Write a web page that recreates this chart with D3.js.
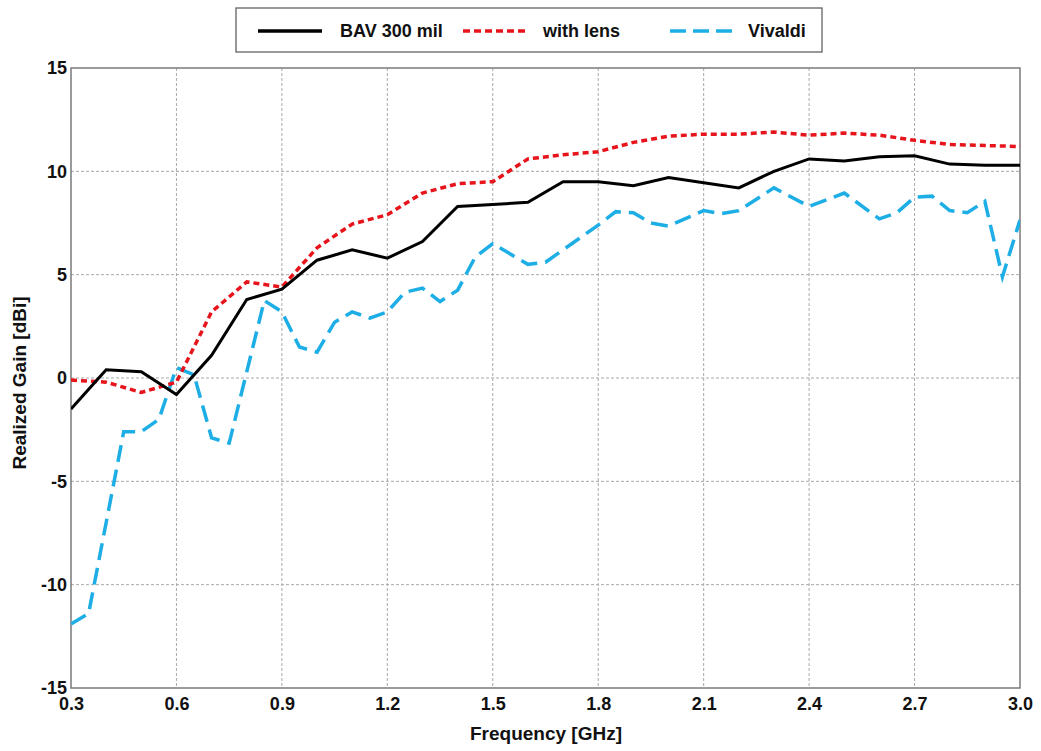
<!DOCTYPE html>
<html><head><meta charset="utf-8">
<script src="https://cdn.jsdelivr.net/npm/d3@7"></script>
<style>body{margin:0;background:#fff}</style>
</head><body><svg id="c" width="1041" height="751"></svg>
<script>
const xTicks = [0.3,0.6,0.9,1.2,1.5,1.8,2.1,2.4,2.7,3.0];
const yTicks = [-15,-10,-5,0,5,10,15];
const bavFreq = [0.3,0.4,0.5,0.6,0.7,0.8,0.9,1.0,1.1,1.2,1.3,1.4,1.5,1.6,1.7,1.8,1.9,2.0,2.1,2.2,2.3,2.4,2.5,2.6,2.7,2.8,2.9,3.0];
const bavGain = [-1.5,0.4,0.3,-0.8,1.1,3.8,4.3,5.7,6.2,5.8,6.6,8.3,8.4,8.5,9.5,9.5,9.3,9.7,9.45,9.2,10.0,10.6,10.5,10.7,10.75,10.35,10.3,10.3];
const lensFreq = [0.3,0.4,0.5,0.6,0.7,0.8,0.9,1.0,1.1,1.2,1.3,1.4,1.5,1.6,1.7,1.8,1.9,2.0,2.1,2.2,2.3,2.4,2.5,2.6,2.7,2.8,2.9,3.0];
const lensGain = [-0.1,-0.2,-0.7,-0.2,3.2,4.65,4.4,6.3,7.45,7.9,8.95,9.4,9.5,10.6,10.8,10.95,11.4,11.7,11.8,11.8,11.9,11.75,11.85,11.75,11.5,11.3,11.25,11.2];
const vivFreq = [0.3,0.35,0.45,0.5,0.55,0.6,0.65,0.7,0.75,0.85,0.9,0.95,1.0,1.05,1.1,1.15,1.2,1.25,1.3,1.35,1.4,1.45,1.5,1.6,1.65,1.8,1.85,1.9,1.95,2.0,2.1,2.15,2.2,2.3,2.4,2.5,2.6,2.65,2.7,2.75,2.8,2.85,2.9,2.95,3.0];
const vivGain = [-11.9,-11.4,-2.6,-2.6,-2.0,0.5,0.15,-2.9,-3.15,3.75,3.2,1.5,1.25,2.7,3.2,2.9,3.2,4.15,4.35,3.7,4.25,5.85,6.5,5.5,5.6,7.4,8.05,8.0,7.5,7.35,8.1,7.95,8.1,9.2,8.3,8.95,7.7,8.0,8.75,8.8,8.1,8.0,8.55,4.9,7.65];
const seriesNames = ["BAV 300 mil","with lens","Vivaldi"];

const svg = d3.select("#c");
const L=71,R=1020,T=68,B=688;
const x = d3.scaleLinear().domain([0.3,3.0]).range([L,R]);
const y = d3.scaleLinear().domain([-15,15]).range([B,T]);
const font = "Arial, 'Liberation Sans', sans-serif";

// grid
svg.append("g").selectAll("line").data(xTicks.slice(1,-1)).join("line")
  .attr("x1",d=>x(d)).attr("x2",d=>x(d)).attr("y1",T).attr("y2",B)
  .attr("stroke","#a8a8a8").attr("stroke-width",1).attr("stroke-dasharray","3,2");
svg.append("g").selectAll("line").data(yTicks.slice(1,-1)).join("line")
  .attr("y1",d=>y(d)).attr("y2",d=>y(d)).attr("x1",L).attr("x2",R)
  .attr("stroke","#a8a8a8").attr("stroke-width",1).attr("stroke-dasharray","3,2");

// axes
const xAxis = svg.append("g").attr("transform",`translate(0,${B})`)
  .call(d3.axisBottom(x).tickValues(xTicks).tickFormat(d3.format(".1f")).tickSize(0).tickPadding(9));
const yAxis = svg.append("g").attr("transform",`translate(${L},0)`)
  .call(d3.axisLeft(y).tickValues(yTicks).tickFormat(d=>String(d)).tickSize(0).tickPadding(4));
[xAxis,yAxis].forEach(a=>{
  a.select(".domain").remove();
  a.selectAll("text").attr("font-family",font).attr("font-weight","bold").attr("font-size",18).attr("fill","#111");
});

// frame
svg.append("rect").attr("x",L).attr("y",T).attr("width",R-L).attr("height",B-T)
  .attr("fill","none").attr("stroke","#7a7a7a").attr("stroke-width",1.5);

// clip
svg.append("clipPath").attr("id","clip").append("rect").attr("x",L).attr("y",T).attr("width",R-L).attr("height",B-T);

const line = d3.line().x(d=>x(d[0])).y(d=>y(d[1]));
const plot = svg.append("g").attr("clip-path","url(#clip)");
plot.append("path").datum(vivFreq.map((f,i)=>[f,vivGain[i]]))
  .attr("d",line).attr("fill","none").attr("stroke","#1eaee6").attr("stroke-width",3.5).attr("stroke-dasharray","17,8");
plot.append("path").datum(lensFreq.map((f,i)=>[f,lensGain[i]]))
  .attr("d",line).attr("fill","none").attr("stroke","#e8141c").attr("stroke-width",3.5).attr("stroke-dasharray","6,4");
plot.append("path").datum(bavFreq.map((f,i)=>[f,bavGain[i]]))
  .attr("d",line).attr("fill","none").attr("stroke","#000").attr("stroke-width",3);

// axis titles
svg.append("text").attr("x",546).attr("y",740).attr("text-anchor","middle")
  .attr("font-family",font).attr("font-weight","bold").attr("font-size",19).attr("fill","#111").text("Frequency [GHz]");
svg.append("text").attr("transform",`translate(26,383) rotate(-90)`).attr("text-anchor","middle")
  .attr("font-family",font).attr("font-weight","bold").attr("font-size",19).attr("fill","#111").text("Realized Gain [dBi]");

// legend
const lg = svg.append("g");
lg.append("rect").attr("x",236).attr("y",8).attr("width",586).attr("height",44)
  .attr("fill","#fff").attr("stroke","#555").attr("stroke-width",1.2);
const legendItems = [
  {name:seriesNames[0],x1:258,x2:322,color:"#000",dash:null,w:3.5,tx:340},
  {name:seriesNames[1],x1:463,x2:528,color:"#e8141c",dash:"7,4",w:3.5,tx:543},
  {name:seriesNames[2],x1:670,x2:733,color:"#1eaee6",dash:"16,7",w:3.5,tx:748}
];
legendItems.forEach(it=>{
  lg.append("line").attr("x1",it.x1).attr("x2",it.x2).attr("y1",31).attr("y2",31)
    .attr("stroke",it.color).attr("stroke-width",it.w).attr("stroke-dasharray",it.dash);
  lg.append("text").attr("x",it.tx).attr("y",37).attr("font-family",font).attr("font-weight","bold")
    .attr("font-size",18).attr("fill","#111").text(it.name);
});
</script></body></html>
